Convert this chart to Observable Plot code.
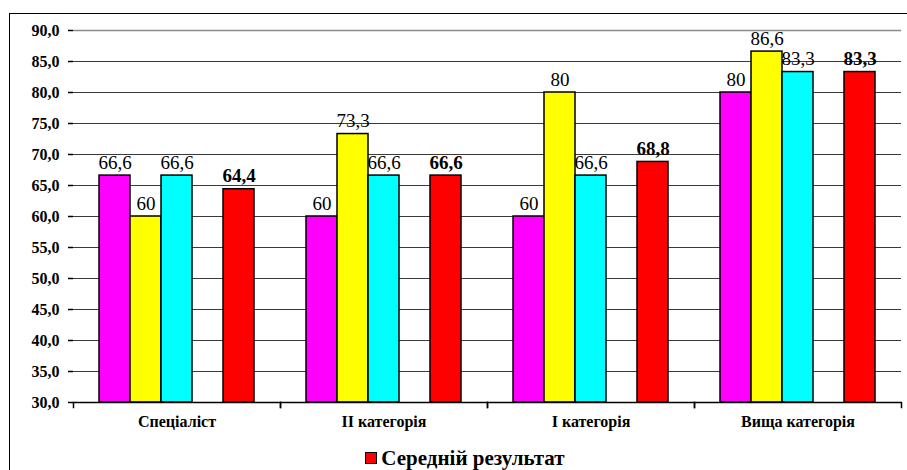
<!DOCTYPE html>
<html><head><meta charset="utf-8">
<script src="https://cdn.jsdelivr.net/npm/d3@7"></script>
<script src="https://cdn.jsdelivr.net/npm/@observablehq/plot@0.6"></script>
<style>
body{margin:0;background:#fff;overflow:hidden;width:907px;height:470px;position:relative;font-family:'Liberation Serif',serif;}
#frame{position:absolute;left:9px;top:13px;width:1000px;height:1000px;border-left:1.5px solid #000;border-top:1.5px solid #000;}
#chart{position:absolute;left:0;top:0;}
#legend{position:absolute;top:447px;left:0;width:930px;text-align:center;font-weight:bold;font-size:21px;line-height:22px;color:#000;font-family:'Liberation Serif',serif;}
#legend .sw{display:inline-block;width:10px;height:10px;background:#FF0000;border:1.5px solid #000;margin-right:4px;vertical-align:1px;}
</style>
</head><body>
<div id="frame"></div>
<div id="chart"></div>
<div id="legend"></div>
<script>
const categories = ["Спеціаліст", "II категорія", "I категорія", "Вища категорія"];
const seriesKeys = ["s1", "s2", "s3", "s4", "avg"];
const seriesColors = ["#FF00FF", "#FFFF00", "#00FFFF", "#FFFFFF", "#FF0000"];
const series1 = [66.6, 60, 60, 80];
const series2 = [60, 73.3, 80, 86.6];
const series3 = [66.6, 66.6, 66.6, 83.3];
const average = [64.4, 66.6, 68.8, 83.3];
const yTicks = [30, 35, 40, 45, 50, 55, 60, 65, 70, 75, 80, 85, 90];
const legendLabel = "Середній результат";

const rows = [];
categories.forEach((c, i) => {
  rows.push({cat: c, s: "s1", v: series1[i]});
  rows.push({cat: c, s: "s2", v: series2[i]});
  rows.push({cat: c, s: "s3", v: series3[i]});
  rows.push({cat: c, s: "avg", v: average[i]});
});
const fmt = v => Number.isInteger(v) ? String(v) : v.toFixed(1).replace(".", ",");
const serif = "Liberation Serif";

const chart = Plot.plot({
  width: 907,
  height: 440,
  marginTop: 30,
  marginLeft: 73,
  marginRight: 6,
  marginBottom: 38,
  style: {fontFamily: serif, background: "transparent", overflow: "visible"},
  fx: {domain: categories, padding: 0, label: null},
  x: {domain: seriesKeys, paddingInner: 0, paddingOuter: 0.755, axis: null},
  y: {domain: [30, 90], clamp: true, label: null},
  color: {domain: seriesKeys, range: seriesColors},
  marks: [
    Plot.ruleY(yTicks.filter(t => t > 30 && t < 90), {stroke: "#3a3a3a", strokeWidth: 1}),
    Plot.ruleY([90], {stroke: "#8a8a8a", strokeWidth: 1.5}),
    Plot.barY(rows, {fx: "cat", x: "s", y: "v", fill: d => d.s, stroke: "#000", strokeWidth: 1.5}),
    Plot.text(rows.filter(d => d.s !== "avg"), {fx: "cat", x: "s", y: "v", text: d => fmt(d.v), lineAnchor: "bottom", dy: -7, fontSize: 19, fontFamily: serif, fill: "#000"}),
    Plot.text(rows.filter(d => d.s === "avg"), {fx: "cat", x: "s", y: "v", text: d => fmt(d.v), lineAnchor: "bottom", dy: -7, fontSize: 19, fontFamily: serif, fontWeight: "bold", fill: "#000"}),
    Plot.ruleY([30], {stroke: "#000", strokeWidth: 1.5}),
    Plot.frame({anchor: "left", insetTop: 372, insetBottom: -5, stroke: "#000", strokeWidth: 1.5}),
    Plot.frame({anchor: "right", insetTop: 372, insetBottom: -5, stroke: "#000", strokeWidth: 1.5}),
    Plot.axisY(yTicks, {anchor: "left", tickSize: 5, tickPadding: 9, line: true, stroke: "#000", strokeWidth: 1.5, tickFormat: d => d.toFixed(1).replace(".", ","), fontSize: 16, fontFamily: serif, fontWeight: "bold", label: null}),
    Plot.axisY({anchor: "right", tickSize: 0, line: true, stroke: "#8a8a8a", strokeWidth: 1.5, tickFormat: () => "", label: null}),
    Plot.axisFx({anchor: "bottom", tickSize: 0, tickPadding: 13, fontSize: 16, fontFamily: serif, fontWeight: "bold", label: null})
  ]
});
document.getElementById("chart").appendChild(chart);
document.getElementById("legend").innerHTML = '<span class="sw"></span>' + legendLabel;
</script>
</body></html>
